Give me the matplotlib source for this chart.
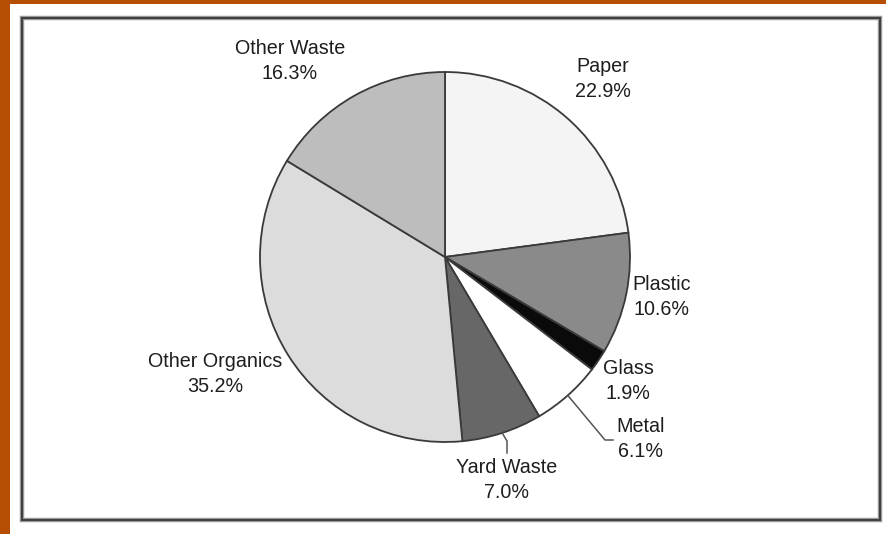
import numpy as np
import matplotlib
matplotlib.use("Agg")
import matplotlib.pyplot as plt
from matplotlib.patches import Rectangle

categories = ["Paper", "Plastic", "Glass", "Metal", "Yard Waste", "Other Organics", "Other Waste"]
values = [22.9, 10.6, 1.9, 6.1, 7.0, 35.2, 16.3]
colors = ["#f4f4f4", "#8a8a8a", "#0a0a0a", "#ffffff", "#676767", "#dcdcdc", "#bdbdbd"]

W, H = 886, 534
plt.rcParams['font.family'] = ['Liberation Sans', 'DejaVu Sans']

fig = plt.figure(figsize=(W / 100, H / 100), dpi=100)
fig.patch.set_facecolor("#b54e02")

ax = fig.add_axes([0, 0, 1, 1])
ax.set_facecolor("none")

def py(y):
    return H - y

# white slide area
ax.add_patch(Rectangle((10, 0), W - 10, H - 4, facecolor="white", edgecolor="none", zorder=-10))

cx, cy, r = 445, py(257), 185
wedges, _ = ax.pie(values, colors=colors, startangle=90, counterclock=False,
                   center=(cx, cy), radius=r, frame=True,
                   wedgeprops=dict(edgecolor="#3a3a3a", linewidth=1.3))
ax.set_xlim(0, W)
ax.set_ylim(0, H)
ax.axis("off")

# chart border (with soft shadow line)
ax.add_patch(Rectangle((22, py(520)), 858, 502, facecolor="none", edgecolor="#9a9a9a", linewidth=3.2))
ax.add_patch(Rectangle((22, py(520)), 858, 502, facecolor="none", edgecolor="#3e3e3e", linewidth=1.4))

label_pos = {
    "Paper": (603, 79),
    "Plastic": (662, 297),
    "Glass": (628, 381),
    "Metal": (641, 439),
    "Yard Waste": (507, 480),
    "Other Organics": (215, 374),
    "Other Waste": (290, 61),
}
for name, val in zip(categories, values):
    x, y = label_pos[name]
    ax.text(x, py(y), f"{name}\n{val:.1f}%", ha="center", va="center", fontsize=14.2,
            color="#1e1e1e", linespacing=1.42)

# leader lines
cum = np.cumsum([0] + values)
def edge_point(i):
    mid = (cum[i] + cum[i + 1]) / 2
    ang = np.deg2rad(90 - 360 * mid / 100)
    return cx + r * np.cos(ang), cy + r * np.sin(ang)

mi = categories.index("Metal")
x0, y0 = edge_point(mi)
ax.plot([x0, 605, 613], [y0, py(440), py(440)], color="#555555", lw=1.1)
yi = categories.index("Yard Waste")
x0, y0 = edge_point(yi)
ax.plot([x0, 507, 507], [y0, py(441), py(453)], color="#555555", lw=1.1)

fig.savefig("out.png", dpi=100, facecolor=fig.get_facecolor())
